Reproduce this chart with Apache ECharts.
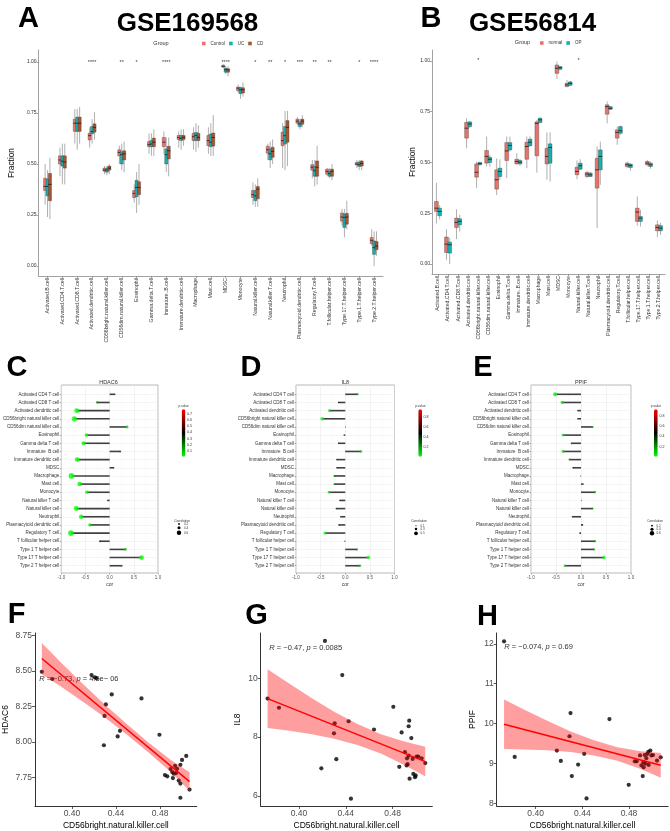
<!DOCTYPE html>
<html><head><meta charset="utf-8">
<script src="https://cdn.jsdelivr.net/npm/echarts@6/dist/echarts.min.js"></script>
<style>html,body{margin:0;padding:0;background:#fff}#c{width:670px;height:831px}</style>
</head><body><div id="c"></div><script>
const FONT = '"Liberation Sans", Arial, Helvetica, sans-serif';

// ---------- Panel A / B : boxplots ----------
const cellsA = ['Activated.B.cell','Activated.CD4.T.cell','Activated.CD8.T.cell','Activated.dendritic.cell','CD56bright.natural.killer.cell','CD56dim.natural.killer.cell','Eosinophil','Gamma.delta.T.cell','Immature..B.cell','Immature.dendritic.cell','Macrophage','Mast.cell','MDSC','Monocyte','Natural.killer.cell','Natural.killer.T.cell','Neutrophil','Plasmacytoid.dendritic.cell','Regulatory.T.cell','T.follicular.helper.cell','Type.17.T.helper.cell','Type.1.T.helper.cell','Type.2.T.helper.cell'];
const cellsB = cellsA.slice();
const fractionTicks = [0, 0.25, 0.5, 0.75, 1];
const starsA = ['','','','****','','**','*','','****','','','','****','','*','**','*','***','**','**','','*','****'];
const starsB = ['','','','','*','','','','','','','','','','*','','','','','','','',''];
// [whisker low, Q1, median, Q3, whisker high]
const controlA = [[0.30,0.37,0.39,0.43,0.50],[0.44,0.50,0.52,0.54,0.58],[0.60,0.66,0.70,0.72,0.77],[0.58,0.618,0.639,0.651,0.68],[0.45,0.465,0.47,0.48,0.49],[0.50,0.54,0.557,0.57,0.59],[0.31,0.335,0.356,0.37,0.40],[0.55,0.585,0.595,0.61,0.65],[0.55,0.585,0.607,0.63,0.66],[0.58,0.62,0.63,0.64,0.66],[0.57,0.615,0.634,0.65,0.68],[0.55,0.59,0.615,0.64,0.68],[0.97,0.975,0.979,0.984,0.99],[0.85,0.86,0.872,0.877,0.89],[0.30,0.336,0.35,0.37,0.41],[0.52,0.553,0.57,0.587,0.60],[0.48,0.59,0.615,0.656,0.70],[0.69,0.70,0.71,0.72,0.73],[0.43,0.47,0.484,0.497,0.52],[0.44,0.45,0.464,0.475,0.48],[0.20,0.22,0.24,0.26,0.28],[0.48,0.495,0.50,0.508,0.52],[0.10,0.11,0.126,0.14,0.18]];
const ucA = [[0.24,0.344,0.39,0.426,0.47],[0.40,0.49,0.514,0.54,0.60],[0.57,0.66,0.70,0.73,0.77],[0.60,0.648,0.659,0.684,0.72],[0.445,0.46,0.47,0.48,0.49],[0.47,0.50,0.546,0.56,0.60],[0.26,0.34,0.385,0.42,0.46],[0.54,0.585,0.598,0.615,0.65],[0.46,0.50,0.546,0.574,0.63],[0.57,0.615,0.626,0.64,0.67],[0.56,0.615,0.64,0.655,0.70],[0.54,0.585,0.607,0.647,0.70],[0.94,0.95,0.962,0.97,0.98],[0.82,0.845,0.864,0.874,0.88],[0.29,0.32,0.344,0.37,0.40],[0.48,0.52,0.55,0.574,0.61],[0.47,0.598,0.639,0.684,0.76],[0.67,0.683,0.697,0.705,0.72],[0.39,0.44,0.467,0.489,0.52],[0.43,0.44,0.454,0.464,0.48],[0.14,0.189,0.238,0.254,0.28],[0.47,0.488,0.497,0.51,0.52],[0.00,0.057,0.09,0.123,0.17]];
const cdA = [[0.23,0.32,0.40,0.454,0.53],[0.40,0.48,0.51,0.54,0.60],[0.60,0.66,0.70,0.73,0.78],[0.62,0.656,0.68,0.697,0.754],[0.45,0.47,0.48,0.49,0.50],[0.46,0.52,0.55,0.565,0.61],[0.30,0.35,0.385,0.413,0.50],[0.54,0.585,0.607,0.627,0.67],[0.44,0.525,0.565,0.587,0.63],[0.59,0.62,0.631,0.64,0.67],[0.58,0.615,0.631,0.65,0.69],[0.54,0.588,0.63,0.652,0.74],[0.93,0.95,0.962,0.967,0.98],[0.83,0.848,0.864,0.874,0.90],[0.29,0.33,0.377,0.39,0.43],[0.50,0.533,0.562,0.582,0.62],[0.49,0.607,0.68,0.713,0.76],[0.68,0.695,0.71,0.72,0.74],[0.40,0.44,0.484,0.515,0.59],[0.42,0.44,0.464,0.475,0.50],[0.18,0.205,0.24,0.258,0.32],[0.47,0.49,0.503,0.515,0.52],[0.05,0.08,0.098,0.12,0.17]];
const normalB = [[0.20,0.259,0.275,0.308,0.40],[0.021,0.057,0.098,0.133,0.172],[0.123,0.18,0.205,0.226,0.27],[0.57,0.62,0.669,0.698,0.718],[0.374,0.428,0.452,0.493,0.505],[0.48,0.497,0.53,0.559,0.628],[0.34,0.369,0.415,0.464,0.52],[0.423,0.51,0.557,0.598,0.628],[0.49,0.493,0.505,0.516,0.546],[0.472,0.516,0.579,0.60,0.628],[0.45,0.533,0.693,0.70,0.71],[0.415,0.493,0.53,0.57,0.648],[0.911,0.939,0.964,0.98,0.997],[0.87,0.874,0.882,0.89,0.907],[0.418,0.44,0.456,0.477,0.51],[0.423,0.431,0.443,0.451,0.459],[0.177,0.374,0.464,0.521,0.579],[0.693,0.738,0.775,0.784,0.80],[0.587,0.62,0.648,0.661,0.677],[0.472,0.48,0.489,0.497,0.505],[0.189,0.21,0.256,0.275,0.333],[0.482,0.489,0.497,0.505,0.513],[0.133,0.164,0.18,0.193,0.215]];
const opB = [[0.22,0.238,0.259,0.275,0.29],[0.0,0.054,0.095,0.108,0.128],[0.16,0.193,0.21,0.223,0.243],[0.669,0.677,0.69,0.70,0.705],[0.484,0.489,0.495,0.50,0.505],[0.48,0.50,0.516,0.525,0.538],[0.415,0.431,0.456,0.472,0.516],[0.554,0.562,0.584,0.598,0.628],[0.484,0.493,0.502,0.51,0.516],[0.579,0.582,0.60,0.615,0.628],[0.693,0.697,0.71,0.718,0.723],[0.406,0.497,0.574,0.592,0.648],[0.954,0.959,0.967,0.972,0.975],[0.877,0.88,0.89,0.897,0.902],[0.461,0.467,0.484,0.497,0.516],[0.428,0.431,0.439,0.448,0.454],[0.39,0.464,0.53,0.562,0.603],[0.759,0.762,0.767,0.775,0.779],[0.636,0.644,0.656,0.677,0.682],[0.459,0.475,0.485,0.492,0.497],[0.185,0.21,0.226,0.234,0.267],[0.469,0.48,0.489,0.497,0.505],[0.143,0.164,0.177,0.189,0.203]];

// ---------- Panels C / D / E : lollipops ----------
const lolliCells = ['Activated CD4 T cell','Activated CD8 T cell','Activated dendritic cell','CD56bright natural killer cell','CD56dim natural killer cell','Eosinophil','Gamma delta T cell','Immature  B cell','Immature dendritic cell','MDSC','Macrophage','Mast cell','Monocyte','Natural killer T cell','Natural killer cell','Neutrophil','Plasmacytoid dendritic cell','Regulatory T cell','T follicular helper cell','Type 1 T helper cell','Type 17 T helper cell','Type 2 T helper cell'];
const hdac6Cor = [0.11,-0.26,-0.68,-0.73,0.36,-0.48,-0.54,0.22,-0.67,0.09,-0.79,-0.62,-0.47,-0.05,-0.69,-0.59,-0.41,-0.80,-0.20,0.33,0.66,0.25];
const hdac6P = [0.56,0.17,0.00003,0.000005,0.05,0.007,0.002,0.24,0.00005,0.63,0.0000002,0.0003,0.009,0.78,0.00002,0.0006,0.025,0.0000001,0.29,0.07,0.00007,0.18];
const il8Cor = [0.25,-0.135,-0.32,-0.47,0.01,-0.03,-0.135,0.32,-0.17,-0.17,-0.22,-0.22,-0.33,-0.11,-0.18,-0.095,-0.13,-0.41,-0.015,0.24,0.47,0.30];
const il8P = [0.18,0.48,0.085,0.0085,0.93,0.88,0.48,0.08,0.37,0.37,0.24,0.24,0.075,0.56,0.34,0.62,0.49,0.024,0.90,0.2,0.0085,0.1];
const ppifCor = [-0.52,-0.38,-0.07,-0.07,0.23,-0.36,-0.19,-0.36,-0.23,-0.16,-0.01,0.05,0.28,0.01,0.23,-0.17,0.04,-0.03,0.28,0.26,0.46,-0.32];
const ppifP = [0.003,0.04,0.71,0.69,0.22,0.05,0.31,0.05,0.22,0.4,0.95,0.79,0.13,0.94,0.21,0.36,0.83,0.87,0.13,0.16,0.01,0.08];
const pLegendC = [0.1,0.2,0.3,0.4,0.5,0.6,0.7];
const pLegendDE = [0.2,0.4,0.6,0.8];
const sizeLegendC = [0.2,0.4,0.6];
const sizeLegendD = [0.1,0.3,0.5];
const sizeLegendE = [0.2,0.4,0.6];

// ---------- Panels F / G / H : scatter ----------
const hdac6X = [0.3727,0.3822,0.4178,0.4207,0.4222,0.4361,0.4308,0.4296,0.4290,0.4436,0.4415,0.4631,0.4794,0.4844,0.4865,0.4895,0.4910,0.4916,0.4924,0.4936,0.4954,0.4945,0.4969,0.4984,0.4999,0.5037,0.4984,0.4984,0.5067];
const hdac6Y = [8.494,8.443,8.471,8.455,8.448,8.334,8.264,8.183,7.976,8.078,8.038,8.306,8.050,7.766,7.757,7.808,7.787,7.745,7.776,7.831,7.810,7.780,7.727,7.838,7.873,7.901,7.706,7.606,7.664];
const il8X = [0.3732,0.3829,0.4222,0.4370,0.4305,0.4299,0.4424,0.4319,0.4191,0.4444,0.4641,0.4806,0.4877,0.4942,0.4937,0.4960,0.4905,0.4923,0.4937,0.4920,0.4928,0.4857,0.4971,0.5005,0.5048,0.4977,0.4991,0.4945,0.5079,0.5019,0.4997];
const il8Y = [9.31,9.00,11.27,10.11,8.47,8.13,8.54,7.25,6.94,5.91,8.26,9.03,8.16,8.56,8.37,7.97,7.49,7.28,7.37,7.04,7.08,6.99,7.26,7.34,7.28,6.75,6.64,6.59,7.12,7.34,6.70];
const ppifX = [0.3730,0.3821,0.4182,0.4216,0.4299,0.4290,0.4310,0.4364,0.4416,0.4436,0.4632,0.4797,0.4849,0.4866,0.4894,0.4917,0.4925,0.4934,0.4948,0.4940,0.4965,0.4982,0.4991,0.4968,0.5005,0.5039,0.5071,0.4957,0.4923,0.4906];
const ppifY = [12.06,9.16,9.32,9.06,10.26,9.68,8.68,8.97,9.24,8.12,10.11,8.46,9.05,9.05,9.20,8.68,8.90,9.21,9.13,8.99,9.29,9.32,9.20,8.96,9.21,9.07,9.15,9.24,9.03,8.95];
const hdac6Fit = [[0.3727,8.587],[0.5067,7.72]];
const il8Fit = [[0.3732,9.31],[0.5079,7.17]];
const ppifFit = [[0.373,9.98],[0.5071,8.95]];
const hdac6BandX = [0.3727,0.39,0.41,0.43,0.45,0.47,0.49,0.5067];
const hdac6BandLo = [8.477,8.39,8.283,8.171,8.05,7.922,7.786,7.655];
const hdac6BandHi = [8.697,8.56,8.407,8.261,8.124,7.992,7.87,7.785];
const il8BandX = [0.3732,0.39,0.41,0.43,0.45,0.47,0.49,0.5079];
const il8BandLo = [8.31,8.223,8.105,7.947,7.73,7.442,7.054,6.67];
const il8BandHi = [10.31,9.863,9.345,8.867,8.45,8.102,7.854,7.67];
const ppifBandX = [0.373,0.39,0.41,0.43,0.45,0.47,0.49,0.5071];
const ppifBandLo = [9.36,9.349,9.326,9.282,9.198,9.065,8.861,8.64];
const ppifBandHi = [10.60,10.349,10.066,9.802,9.578,9.405,9.301,9.26];
const xTicksFGH = [0.40, 0.44, 0.48];
const yTicksF = [7.75, 8.00, 8.25, 8.50, 8.75];
const yTicksG = [6, 8, 10];
const yTicksH = [8, 9, 10, 11, 12];

const COL_CONTROL = '#E8736B', COL_UC = '#17AFB0', COL_CD = '#A65531';

// ---------- helpers ----------
const idx22 = lolliCells.map((_, i) => i);

function boxRender(offsetFrac, widthFrac, color) {
  return function (params, api) {
    const c = api.value(0);
    const unit = api.size([1, 0])[0];
    const lo = api.coord([c, api.value(1)]);
    const q1 = api.coord([c, api.value(2)]);
    const md = api.coord([c, api.value(3)]);
    const q3 = api.coord([c, api.value(4)]);
    const hi = api.coord([c, api.value(5)]);
    const cx = lo[0] + offsetFrac * unit;
    const w = widthFrac * unit;
    return { type: 'group', children: [
      { type: 'line', shape: { x1: cx, y1: hi[1], x2: cx, y2: lo[1] }, style: { stroke: '#8c8c8c', lineWidth: 0.7 } },
      { type: 'rect', shape: { x: cx - w / 2, y: q3[1], width: w, height: Math.max(q1[1] - q3[1], 0.6) }, style: { fill: color, stroke: '#3a3a3a', lineWidth: 0.35 } },
      { type: 'line', shape: { x1: cx - w / 2, y1: md[1], x2: cx + w / 2, y2: md[1] }, style: { stroke: '#1a1a1a', lineWidth: 0.8 } }
    ]};
  };
}
function boxSeries(name, arr, gi, off, wf, color) {
  return { type: 'custom', name: name, xAxisIndex: gi, yAxisIndex: gi, itemStyle: { color: color },
    renderItem: boxRender(off, wf, color), encode: { x: 0, y: [1, 2, 3, 4, 5] },
    data: arr.map((d, i) => [i].concat(d)), z: 3 };
}
function starSeries(stars, gi) {
  return { type: 'scatter', xAxisIndex: gi, yAxisIndex: gi, symbolSize: 1, itemStyle: { color: 'rgba(0,0,0,0)' },
    data: stars.map((s, i) => [i, 1.0, s]).filter(d => d[2]),
    label: { show: true, position: 'inside', formatter: p => p.value[2], fontSize: 5.5, color: '#000', fontFamily: FONT } };
}
const greyAxis = { color: '#8a8a8a', width: 0.8 };
function boxXAxis(gi, cats, fs) {
  return { type: 'value', gridIndex: gi, min: -0.6, max: cats.length - 0.4,
    axisLine: { show: true, onZero: false, lineStyle: greyAxis },
    axisTick: { show: true, length: 2, customValues: cats.map((_, i) => i), lineStyle: greyAxis },
    axisLabel: { customValues: cats.map((_, i) => i), formatter: v => cats[Math.round(v)], rotate: 90, fontSize: fs, color: '#333', margin: 2, fontFamily: FONT },
    splitLine: { show: false } };
}
function boxYAxis(gi, mn, mx, gap) {
  return { type: 'value', gridIndex: gi, min: mn, max: mx, name: 'Fraction', nameLocation: 'middle', nameGap: gap,
    nameTextStyle: { fontSize: 8.3, color: '#000', fontFamily: FONT },
    axisLine: { show: true, onZero: false, lineStyle: greyAxis },
    axisTick: { show: true, length: 2, customValues: fractionTicks, lineStyle: greyAxis },
    axisLabel: { customValues: fractionTicks, formatter: v => v.toFixed(2), fontSize: 5, color: '#333', margin: 2, fontFamily: FONT },
    splitLine: { show: false } };
}
function lolliXAxis(gi) {
  return { type: 'value', gridIndex: gi, min: -1, max: 1, interval: 0.5, name: 'cor', nameLocation: 'middle', nameGap: 9,
    nameTextStyle: { fontSize: 5, color: '#333', fontFamily: FONT },
    axisLine: { show: false, onZero: false },
    axisTick: { show: true, length: 1.5, lineStyle: { color: '#666', width: 0.5 } },
    axisLabel: { fontSize: 4.5, color: '#555', margin: 2, fontFamily: FONT, formatter: v => v.toFixed(1) },
    splitLine: { show: true, lineStyle: { color: '#e6e6e6', width: 0.5 } },
    minorTick: { show: false, splitNumber: 2 },
    minorSplitLine: { show: true, lineStyle: { color: '#f3f3f3', width: 0.4 } } };
}
function lolliYAxis(gi) {
  return { type: 'value', gridIndex: gi, min: -1.14, max: 21.89, inverse: true,
    axisLine: { show: false, onZero: false },
    axisTick: { show: true, length: 1.5, customValues: idx22, lineStyle: { color: '#666', width: 0.5 } },
    axisLabel: { customValues: idx22, formatter: v => lolliCells[Math.round(v)], fontSize: 4.5, color: '#333', margin: 2, fontFamily: FONT },
    splitLine: { show: true, lineStyle: { color: '#ebebeb', width: 0.5 } } };
}
function segRender(params, api) {
  const a = api.coord([0, api.value(1)]);
  const b = api.coord([api.value(0), api.value(1)]);
  return { type: 'line', shape: { x1: a[0], y1: a[1], x2: b[0], y2: b[1] }, style: { stroke: '#404040', lineWidth: 1.6 } };
}
const dotSize = c => 0.5 + 6.5 * Math.abs(c);
function lolliSeries(cor, p, gi, pmin, pmax) {
  return [
    { type: 'custom', xAxisIndex: gi, yAxisIndex: gi, renderItem: segRender, encode: { x: 0, y: 1 },
      data: cor.map((v, i) => [v, i]), z: 2 },
    { type: 'scatter', xAxisIndex: gi, yAxisIndex: gi, z: 3,
      data: cor.map((v, i) => [v, i, Math.min(Math.max(p[i], pmin), pmax)]),
      symbolSize: v => dotSize(v[0]) }
  ];
}
function scatXAxis(gi, mn, mx) {
  return { type: 'value', gridIndex: gi, min: mn, max: mx, name: 'CD56bright.natural.killer.cell', nameLocation: 'middle', nameGap: 15,
    nameTextStyle: { fontSize: 8.5, color: '#000', fontFamily: FONT },
    axisLine: { show: true, onZero: false, lineStyle: { color: '#000', width: 0.8 } },
    axisTick: { show: true, length: 3, customValues: xTicksFGH, lineStyle: { color: '#333', width: 0.8 } },
    axisLabel: { customValues: xTicksFGH, formatter: v => v.toFixed(2), fontSize: 8.5, color: '#4d4d4d', margin: 3, fontFamily: FONT },
    splitLine: { show: false } };
}
function scatYAxis(gi, mn, mx, ticks, name, gap, dec) {
  return { type: 'value', gridIndex: gi, min: mn, max: mx, name: name, nameLocation: 'middle', nameGap: gap,
    nameTextStyle: { fontSize: 8.5, color: '#000', fontFamily: FONT },
    axisLine: { show: true, onZero: false, lineStyle: { color: '#000', width: 0.8 } },
    axisTick: { show: true, length: 3, customValues: ticks, lineStyle: { color: '#333', width: 0.8 } },
    axisLabel: { customValues: ticks, formatter: v => v.toFixed(dec), fontSize: 8.5, color: '#4d4d4d', margin: 3, fontFamily: FONT },
    splitLine: { show: false } };
}
function bandRender(bx, lo, hi) {
  return function (params, api) {
    const pts = [];
    for (let i = 0; i < bx.length; i++) pts.push(api.coord([bx[i], hi[i]]));
    for (let i = bx.length - 1; i >= 0; i--) pts.push(api.coord([bx[i], lo[i]]));
    return { type: 'polygon', shape: { points: pts }, style: { fill: 'rgba(255,0,0,0.38)' } };
  };
}
function scatterSeries(xs, ys, fit, bx, lo, hi, gi) {
  return [
    { type: 'scatter', xAxisIndex: gi, yAxisIndex: gi, symbolSize: 4.2, itemStyle: { color: '#000' },
      data: xs.map((x, i) => [x, ys[i]]), z: 2 },
    { type: 'custom', xAxisIndex: gi, yAxisIndex: gi, renderItem: bandRender(bx, lo, hi), encode: { x: 0, y: 1 },
      data: [[bx[0], lo[0]]], z: 3, silent: true },
    { type: 'line', xAxisIndex: gi, yAxisIndex: gi, data: fit, symbol: 'none', lineStyle: { color: '#FF0000', width: 1.5 }, z: 4 }
  ];
}

// ---------- build option ----------
const series = [];
series.push(boxSeries('Control', controlA, 0, -0.162, 0.214, COL_CONTROL));
series.push(boxSeries('UC', ucA, 0, 0, 0.214, COL_UC));
series.push(boxSeries('CD', cdA, 0, 0.162, 0.214, COL_CD));
series.push(starSeries(starsA, 0));
series.push(boxSeries('normal', normalB, 1, -0.16, 0.38, COL_CONTROL));
series.push(boxSeries('OP', opB, 1, 0.16, 0.38, COL_UC));
series.push(starSeries(starsB, 1));
const lolliSpec = [
  { cor: hdac6Cor, p: hdac6P, gi: 2, pmin: 0.001, pmax: 0.782 },
  { cor: il8Cor, p: il8P, gi: 3, pmin: 0.016, pmax: 0.945 },
  { cor: ppifCor, p: ppifP, gi: 4, pmin: 0.004, pmax: 0.93 }
];
const dotSeriesIdx = [];
lolliSpec.forEach(s => {
  const ss = lolliSeries(s.cor, s.p, s.gi, s.pmin, s.pmax);
  series.push(ss[0]);
  series.push(ss[1]);
  dotSeriesIdx.push(series.length - 1);
});
scatterSeries(hdac6X, hdac6Y, hdac6Fit, hdac6BandX, hdac6BandLo, hdac6BandHi, 5).forEach(s => series.push(s));
scatterSeries(il8X, il8Y, il8Fit, il8BandX, il8BandLo, il8BandHi, 6).forEach(s => series.push(s));
scatterSeries(ppifX, ppifY, ppifFit, ppifBandX, ppifBandLo, ppifBandHi, 7).forEach(s => series.push(s));

const cbar = [
  { left: 181.7, labelX: 187, labels: pLegendC },
  { left: 418.3, labelX: 423.5, labels: pLegendDE },
  { left: 654, labelX: 659.5, labels: pLegendDE }
];
const CB_TOP = 409.3, CB_H = 47.4;
const visualMaps = lolliSpec.map((s, k) => ({
  type: 'continuous', seriesIndex: dotSeriesIdx[k], dimension: 2, min: s.pmin, max: s.pmax,
  inRange: { color: ['#00FF00', '#000000', '#FF0000'] }, orient: 'vertical',
  left: cbar[k].left, top: CB_TOP, itemWidth: 3.7, itemHeight: CB_H, calculable: false, padding: 0,
  text: null, hoverLink: false, textStyle: { fontSize: 1 }
}));

const graphic = [];
function txt(x, y, t, size, opts) {
  graphic.push({ type: 'text', x: x, y: y, silent: true, style: Object.assign({ text: t, fontSize: size, fontFamily: FONT, fill: '#000', align: 'center', verticalAlign: 'middle' }, opts || {}) });
}
[['A', 28.5, 19], ['B', 431, 19], ['C', 17, 368], ['D', 251, 368], ['E', 483, 368], ['F', 16.5, 615], ['G', 256.5, 616], ['H', 487.5, 616.5]]
  .forEach(l => txt(l[1], l[2], l[0], 29, { fontWeight: 'bold' }));
txt(187.5, 23.5, 'GSE169568', 26, { fontWeight: 'bold' });
txt(532.5, 23.5, 'GSE56814', 26, { fontWeight: 'bold' });
txt(161, 43.3, 'Group', 5.5, { fill: '#333' });
txt(522.5, 42.7, 'Group', 5.5, { fill: '#333' });
txt(108.5, 382, 'HDAC6', 5.5, { fill: '#333' });
txt(345.2, 382, 'IL8', 5.5, { fill: '#333' });
txt(581, 382, 'PPIF', 5.5, { fill: '#333' });
lolliSpec.forEach((s, k) => {
  txt(cbar[k].left + 2, CB_TOP - 3, 'p.value', 3.2, { fill: '#333' });
  cbar[k].labels.forEach(v => {
    const y = CB_TOP + (s.pmax - v) / (s.pmax - s.pmin) * CB_H;
    txt(cbar[k].labelX, y, String(v), 3.6, { fill: '#333', align: 'left' });
  });
});
const sizeSpec = [
  { x: 179, labelX: 184, vals: sizeLegendC, ys: [524, 527.7, 532.7] },
  { x: 416, labelX: 420.5, vals: sizeLegendD, ys: [525.7, 529, 533.3] },
  { x: 652, labelX: 656.5, vals: sizeLegendE, ys: [525.7, 529.3, 533.3] }
];
sizeSpec.forEach(s => {
  txt(s.x + 3, 521, 'Correlation', 3.2, { fill: '#333' });
  s.vals.forEach((v, i) => {
    graphic.push({ type: 'circle', silent: true, shape: { cx: s.x, cy: s.ys[i], r: dotSize(v) / 2 }, style: { fill: '#000' } });
    txt(s.labelX, s.ys[i], String(v), 3, { fill: '#333', align: 'left' });
  });
});
const richI = { i: { fontStyle: 'italic', fontSize: 7.5, fontFamily: FONT, fill: '#333' } };
txt(39.3, 679, '{i|R} = \u22120.73, {i|p} = 4.5e\u2212 06', 7.5, { fill: '#333', align: 'left', rich: richI });
txt(269.3, 647.7, '{i|R} = \u22120.47, {i|p} = 0.0085', 7.5, { fill: '#333', align: 'left', rich: richI });
txt(504.3, 647, '{i|R} = \u22120.074, {i|p} = 0.69', 7.5, { fill: '#333', align: 'left', rich: richI });

const lolliGrid = { show: true, borderColor: '#a6a6a6', borderWidth: 0.8, backgroundColor: '#fff' };
const option = {
  animation: false,
  backgroundColor: '#fff',
  textStyle: { fontFamily: FONT },
  grid: [
    { left: 26, top: 50, width: 357, height: 226 },
    { left: 432, top: 50, width: 233, height: 224 },
    Object.assign({ left: 59, top: 385, width: 99, height: 188 }, lolliGrid),
    Object.assign({ left: 296, top: 385, width: 98.5, height: 188 }, lolliGrid),
    Object.assign({ left: 531, top: 385, width: 100, height: 188 }, lolliGrid),
    { left: 31.7, top: 633, width: 165, height: 175.3 },
    { left: 260.7, top: 633, width: 171.6, height: 174.3 },
    { left: 496.7, top: 633, width: 171.5, height: 174.3 }
  ],
  xAxis: [
    boxXAxis(0, cellsA, 5.2), boxXAxis(1, cellsB, 5.1),
    lolliXAxis(2), lolliXAxis(3), lolliXAxis(4),
    scatXAxis(5, 0.3665, 0.5132), scatXAxis(6, 0.3673, 0.5139), scatXAxis(7, 0.3667, 0.5135)
  ],
  yAxis: [
    boxYAxis(0, -0.049, 1.059, 19.5), boxYAxis(1, -0.049, 1.054, 14),
    lolliYAxis(2), lolliYAxis(3), lolliYAxis(4),
    scatYAxis(5, 7.548, 8.767, yTicksF, 'HDAC6', 25, 2),
    scatYAxis(6, 5.66, 11.54, yTicksG, 'IL8', 19, 0),
    scatYAxis(7, 7.93, 12.27, yTicksH, 'PPIF', 20, 0)
  ],
  legend: [
    { data: ['Control', 'UC', 'CD'], left: 202, top: 41, itemWidth: 3.6, itemHeight: 3.6, itemGap: 4, icon: 'rect',
      padding: 0, selectedMode: false, textStyle: { fontSize: 4.5, color: '#333', fontFamily: FONT } },
    { data: ['normal', 'OP'], left: 540, top: 40.5, itemWidth: 3.6, itemHeight: 3.6, itemGap: 4, icon: 'rect',
      padding: 0, selectedMode: false, textStyle: { fontSize: 4.5, color: '#333', fontFamily: FONT } }
  ],
  visualMap: visualMaps,
  series: series,
  graphic: graphic
};
const chart = echarts.init(document.getElementById('c'), null, { width: 670, height: 831 });
chart.setOption(option);
</script></body></html>
